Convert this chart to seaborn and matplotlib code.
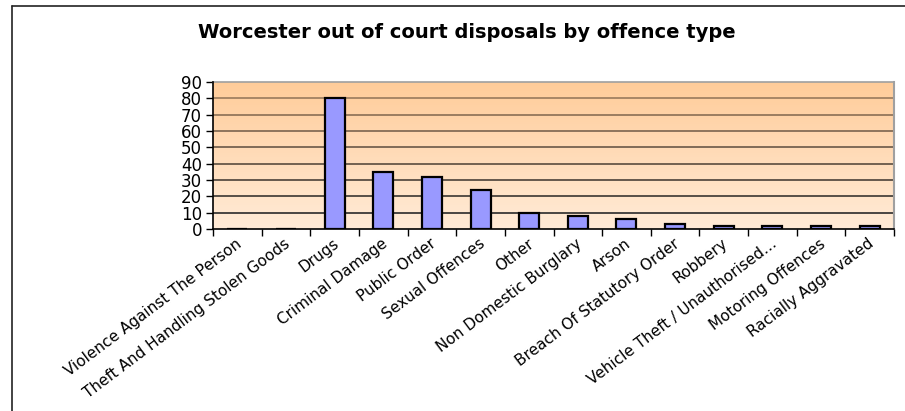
import numpy as np
import pandas as pd
import matplotlib
matplotlib.use("Agg")
import matplotlib.pyplot as plt
import matplotlib.transforms as mtransforms
import seaborn as sns
from matplotlib.colors import LinearSegmentedColormap
from matplotlib.lines import Line2D

categories = [
    "Violence Against The Person", "Theft And Handling Stolen Goods", "Drugs",
    "Criminal Damage", "Public Order", "Sexual Offences", "Other",
    "Non Domestic Burglary", "Arson", "Breach Of Statutory Order", "Robbery",
    "Vehicle Theft / Unauthorised\u2026", "Motoring Offences", "Racially Aggravated",
]
values = [0, 0, 80, 35, 32, 24, 10, 8, 6, 3, 2, 2, 2, 2]
yticks = [0, 10, 20, 30, 40, 50, 60, 70, 80, 90]
title = "Worcester out of court disposals by offence type"

sns.set_theme(style="white")
plt.rcParams['font.family'] = ['DejaVu Sans']
plt.rcParams['text.color'] = 'black'
plt.rcParams['xtick.color'] = 'black'
plt.rcParams['ytick.color'] = 'black'
plt.rcParams['xtick.labelcolor'] = 'black'
plt.rcParams['ytick.labelcolor'] = 'black'

fig = plt.figure(figsize=(9.05, 4.11), dpi=100)
ax = fig.add_axes([213/905, 1-229/411, (894-213)/905, (229-82)/411])

df = pd.DataFrame({"cat": categories, "val": values})
n = len(categories)

# gradient background
cmap = LinearSegmentedColormap.from_list("bg", ["#FFEBD7", "#FFCC99"])
grad = np.linspace(0, 1, 256).reshape(-1, 1)
ax.imshow(grad, cmap=cmap, aspect="auto", origin="lower",
          extent=[-0.5, n - 0.5, 0, 90], zorder=0)

sns.barplot(data=df, x="cat", y="val", ax=ax, color="#9999FF", width=0.41,
            edgecolor="black", linewidth=1.6, saturation=1, zorder=3)
for p in ax.patches:
    p.set_facecolor("#9999FF")

ax.set_xlim(-0.5, n - 0.5)
ax.set_ylim(0, 90)
ax.set_yticks(yticks)
ax.set_yticklabels([str(t) for t in yticks], fontsize=12)
gcmap = LinearSegmentedColormap.from_list("gl", ["#2a2a2a", "#9a7a5c"])
for t in yticks[1:-1]:
    ax.axhline(t, color=gcmap((t - 10) / 70), linewidth=1.2, zorder=1)

ax.set_xticks(range(n))
ax.set_xticklabels(categories, rotation=37, ha="right", rotation_mode="anchor",
                   fontsize=11)
ax.tick_params(axis="x", length=0, pad=5)
offset = mtransforms.ScaledTranslation(-2/100, 0, fig.dpi_scale_trans)
for lab in ax.get_xticklabels():
    lab.set_transform(lab.get_transform() + offset)
ax.set_xticks(np.arange(-0.5, n, 1.0), minor=True)
ax.tick_params(axis="x", which="minor", length=5, width=1, color="black",
               direction="out", bottom=True)
ax.tick_params(axis="y", length=5, width=1, color="black", direction="out",
               left=True, pad=3)
ax.set_xlabel("")
ax.set_ylabel("")

for s in ["left", "bottom"]:
    ax.spines[s].set_color("black")
    ax.spines[s].set_linewidth(1.2)
    ax.spines[s].set_zorder(5)
ax.spines["top"].set_color("#a0a0a0")
ax.spines["right"].set_color("#a0a0a0")
ax.spines["top"].set_linewidth(1.2)
ax.spines["right"].set_linewidth(1.5)

fig.text(467/905, 1-33/411, title, ha="center", va="center",
         fontsize=14, fontweight="bold", color="black")

# figure border (top and left)
fig.add_artist(Line2D([12/905, 1], [1-6/411, 1-6/411], transform=fig.transFigure,
                      color="#222222", linewidth=1.2))
fig.add_artist(Line2D([12/905, 12/905], [0, 1-6/411], transform=fig.transFigure,
                      color="#222222", linewidth=1.2))

fig.savefig("out.png", dpi=100)
